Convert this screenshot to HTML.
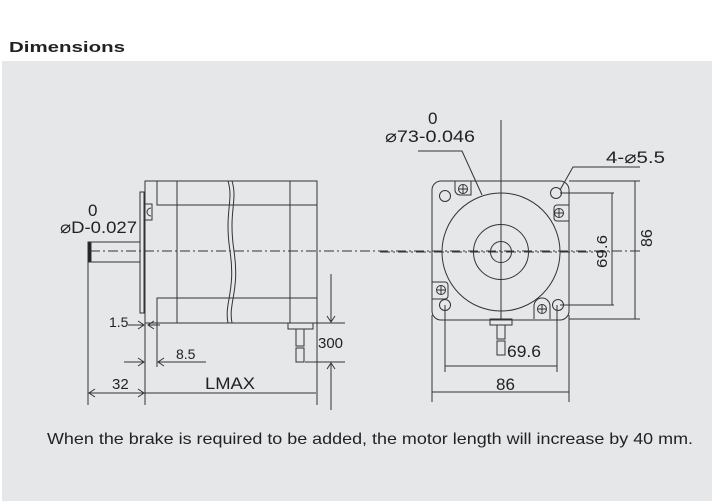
<!DOCTYPE html>
<html><head><meta charset="utf-8"><style>
html,body{margin:0;padding:0;background:#fff;width:712px;height:501px;overflow:hidden}
svg{display:block}
text{font-family:"Liberation Sans",sans-serif;fill:#222}
</style></head><body>
<svg width="712" height="501" viewBox="0 0 712 501" xmlns="http://www.w3.org/2000/svg">
<text x="9" y="52" font-size="15" font-weight="bold" fill="#111" textLength="116" lengthAdjust="spacingAndGlyphs">Dimensions</text>
<rect x="2" y="61" width="710" height="440" fill="#e6e7e8"/>
<g stroke="#333" stroke-width="1" fill="none">
<!-- side view -->
<rect x="145" y="181" width="172" height="142"/>
<path d="M157,181V205H317M157,323V298H317M177,181V323M290,181V323"/>
<path d="M228,181c6,20 -4,30 2,70c6,40 -6,52 -2,72M232,181c6,20 -4,30 2,70c6,40 -6,52 -2,72"/>
<rect x="140" y="192" width="4" height="121"/>
<rect x="145" y="204" width="7" height="16"/>
<path d="M151,208a4,4 0 0 0 0,8"/>
<rect x="88" y="242" width="52" height="20"/>
<rect x="88" y="242" width="3" height="20" fill="#222"/>
<rect x="288" y="323" width="25" height="6"/>
<rect x="296" y="329" width="8" height="17"/>
<rect x="296" y="348" width="8" height="14"/>
<path stroke-dasharray="10,3,2,3" d="M90,251H640"/>
<!-- side dims -->
<path d="M88,262V405M145,313V405M157,323V367M317,323V405"/>
<!-- 1.5 -->
<path d="M128,325H144M138,321L144,325L138,329"/>
<path d="M148,325H160M154,321L148,325L154,329"/>
<!-- 8.5 -->
<path d="M124,362H144M138,358L144,362L138,366"/>
<path d="M158,362H206M164,358L158,362L164,366"/>
<!-- 32 / LMAX -->
<path d="M89,393H316M95,389L89,393L95,397M138,389L144,393L138,397M146,393"/>
<!-- 300 -->
<path d="M317,323H345M305,362H345"/>
<path d="M331,274V322M327,316L331,322L335,316"/>
<path d="M331,363V410M327,369L331,363L335,369"/>
<!-- front view -->
<rect x="432" y="181" width="137" height="139" rx="9"/>
<circle cx="501" cy="252" r="59"/>
<circle cx="501" cy="252" r="27.5"/>
<circle cx="501" cy="252" r="10.5"/>
<circle cx="445" cy="196" r="5.5"/><circle cx="556" cy="193" r="5.5"/>
<circle cx="445" cy="305" r="5.5"/><circle cx="558" cy="305" r="5.5"/>
<path d="M455,181V190a5,5 0 0 0 5,5H471V181"/>
<circle cx="463" cy="189" r="4.5"/><path d="M458.5,189H467.5M463,184.5V193.5"/>
<path d="M569,205H557a3,3 0 0 0 -3,3V218a3,3 0 0 0 3,3H569"/>
<circle cx="559" cy="213" r="4.5"/><path d="M554.5,213H563.5M559,208.5V217.5"/>
<path d="M432,282H445a3,3 0 0 1 3,3V296a3,3 0 0 1 -3,3H432"/>
<circle cx="441" cy="290" r="4.5"/><path d="M436.5,290H445.5M441,285.5V294.5"/>
<path d="M534,319V306a8,8 0 0 1 16,0V319"/>
<circle cx="542" cy="309" r="4.5"/><path d="M537.5,309H546.5M542,304.5V313.5"/>
<path d="M501,120V320"/>
<path stroke-dasharray="10,3,2,3" d="M380,252H610"/>
<rect x="490" y="319" width="22" height="6"/>
<rect x="497" y="325" width="8" height="14"/><rect x="497" y="341" width="8" height="14"/>
<path d="M418,151H462L482,195"/>
<path d="M640,167H573L560,190"/>
<path d="M560,193H614M560,305H614M612,193V305"/>
<path d="M569,181H640M569,319H640M635,181V319"/>
<path d="M445,305V372M557,305V372M445,366H557"/>
<path d="M432,315V402M569,315V402M432,392H569"/>
</g>
<g font-size="17">
<text x="88" y="216">0</text>
<text x="60" y="233" textLength="77" lengthAdjust="spacingAndGlyphs">⌀D-0.027</text>
<text x="109" y="327" font-size="14">1.5</text>
<text x="176" y="359" font-size="14">8.5</text>
<text x="112" y="389" font-size="15">32</text>
<text x="205" y="389" textLength="50" lengthAdjust="spacingAndGlyphs">LMAX</text>
<text x="318" y="348" font-size="15" textLength="25" lengthAdjust="spacingAndGlyphs">300</text>
<text x="428" y="124">0</text>
<text x="385" y="142" textLength="90" lengthAdjust="spacingAndGlyphs">⌀73-0.046</text>
<text x="606" y="163" textLength="59" lengthAdjust="spacingAndGlyphs">4-⌀5.5</text>
<text x="507" y="357" textLength="34" lengthAdjust="spacingAndGlyphs">69.6</text>
<text x="496" y="390">86</text>
<text transform="translate(607,268) rotate(-90)" font-size="15" textLength="33" lengthAdjust="spacingAndGlyphs">69.6</text>
<text transform="translate(652,247) rotate(-90)" font-size="16">86</text>
</g>
<text x="47" y="444" font-size="16" textLength="646" lengthAdjust="spacingAndGlyphs">When the brake is required to be added, the motor length will increase by 40 mm.</text>
</svg>
</body></html>
